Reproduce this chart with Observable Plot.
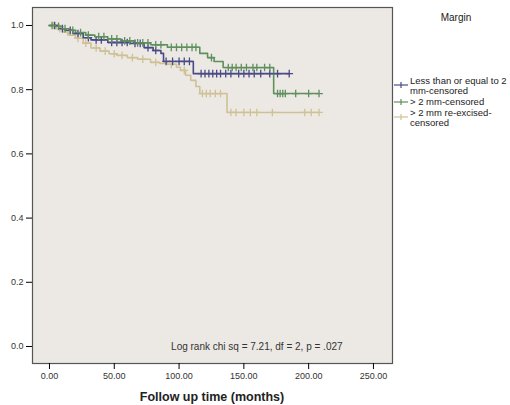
<!DOCTYPE html>
<html><head><meta charset="utf-8">
<script src="https://cdn.jsdelivr.net/npm/d3@7"></script>
<script src="https://cdn.jsdelivr.net/npm/@observablehq/plot@0.6"></script>
<style>
body{margin:0;background:#fff;font-family:"Liberation Sans",Arial,sans-serif;}
</style></head><body><div id="chart"></div>
<script>
const groups = ["Less than or equal to 2 mm-censored", "> 2 mm-censored", "> 2 mm re-excised-censored"];
const legendLines = [["Less than or equal to 2", "mm-censored"], ["> 2 mm-censored"], ["> 2 mm re-excised-", "censored"]];
const colors = ["#4a4a86", "#5e8f5c", "#cfc196"];

// Kaplan-Meier steps (months, survival)
const leTimes = [0, 8, 12, 18, 26, 32, 45, 62, 73, 80, 86, 88, 111, 185];
const leSurv  = [1, .99, .985, .975, .962, .955, .947, .944, .931, .922, .913, .888, .850, .850];
const gtTimes = [0, 5, 10, 15, 20, 28, 35, 45, 55, 65, 78, 91, 116, 122, 127, 134, 173, 208];
const gtSurv  = [1, .997, .99, .985, .978, .97, .965, .958, .952, .946, .94, .932, .913, .9, .888, .869, .788, .788];
const reTimes = [0, 5, 10, 15, 20, 26, 32, 39, 46, 52, 60, 68, 78, 85, 91, 98, 101, 105, 109, 113, 116, 137, 208];
const reSurv  = [1, .99, .98, .97, .96, .945, .93, .92, .912, .907, .9, .895, .885, .882, .879, .87, .86, .845, .829, .81, .788, .729, .729];

// censored observation times
const leCens = [4, 10, 16, 22, 30, 36, 40, 48, 52, 56, 60, 66, 70, 76, 82, 90, 95, 100, 104, 108, 117, 120, 123, 126, 129, 132, 136, 140, 146, 150, 154, 158, 163, 170, 176, 185];
const gtCens = [2, 7, 12, 18, 24, 30, 38, 42, 48, 52, 58, 62, 68, 72, 76, 82, 86, 94, 98, 102, 106, 110, 113, 125, 138, 141, 144, 148, 152, 157, 160, 166, 170, 176, 178, 180, 182, 190, 200, 208];
const reCens = [3, 8, 14, 22, 28, 36, 43, 50, 56, 64, 72, 82, 94, 104, 118, 121, 124, 128, 132, 140, 144, 150, 155, 160, 172, 197, 202, 208];

const xTicks = [0, 50, 100, 150, 200, 250];
const yTicks = [0, 0.2, 0.4, 0.6, 0.8, 1.0];
const statText = "Log rank chi sq = 7.21, df = 2, p = .027";

const series = [[leTimes, leSurv, leCens], [gtTimes, gtSurv, gtCens], [reTimes, reSurv, reCens]];
const lines = [], cens = [];
series.forEach(([t, s, c], i) => {
  t.forEach((tt, j) => lines.push({g: groups[i], t: tt, s: s[j]}));
  c.forEach(ct => {
    let v = s[0];
    for (let j = 0; j < t.length; j++) if (t[j] <= ct) v = s[j];
    cens.push({g: groups[i], t: ct, s: v});
  });
});
const order = [2, 0, 1];

const plot = Plot.plot({
  width: 510, height: 405,
  marginLeft: 32, marginRight: 118, marginTop: 7, marginBottom: 42,
  style: {fontFamily: "Liberation Sans, Arial, sans-serif", fontSize: "9px", background: "#fff"},
  x: {domain: [-13.1, 264.7], label: null},
  y: {domain: [-0.053, 1.056], label: null},
  marks: [
    Plot.frame({fill: "#ece9e4", stroke: "none"}),
    ...order.map(i => Plot.line(lines.filter(d => d.g === groups[i]), {x: "t", y: "s", stroke: colors[i], strokeWidth: 1.6, curve: "step-after"})),
    ...order.map(i => Plot.dot(cens.filter(d => d.g === groups[i]), {x: "t", y: "s", stroke: colors[i], symbol: "plus", r: 2.6, strokeWidth: 1.3})),
    Plot.text([statText], {x: 160, y: 0.0, text: d => d, fontSize: 10, fill: "#333"}),
    Plot.frame({stroke: "#555", strokeWidth: 1.2}),
    Plot.axisX({ticks: xTicks, tickFormat: d => d.toFixed(2), tickSize: 6, fontSize: 9, fill: "#333", label: null}),
    Plot.axisY({ticks: yTicks, tickFormat: d => d.toFixed(1), tickSize: 6, fontSize: 9, fill: "#333", label: null})
  ]
});

const svg = d3.select(plot);
svg.append("text").attr("x", 212).attr("y", 401).attr("text-anchor", "middle")
  .attr("font-size", 12.5).attr("font-weight", "bold").attr("fill", "#222").text("Follow up time (months)");
svg.append("text").attr("x", 456).attr("y", 21).attr("text-anchor", "middle")
  .attr("font-size", 10).attr("fill", "#222").text("Margin");
const symY = [85, 102, 117];
legendLines.forEach((ls, i) => {
  const g = svg.append("g");
  g.append("line").attr("x1", 394).attr("x2", 408).attr("y1", symY[i]).attr("y2", symY[i]).attr("stroke", colors[i]).attr("stroke-width", 1.2);
  g.append("line").attr("x1", 401).attr("x2", 401).attr("y1", symY[i] - 3).attr("y2", symY[i] + 3).attr("stroke", colors[i]).attr("stroke-width", 1.2);
  ls.forEach((s, k) => g.append("text").attr("x", 410).attr("y", symY[i] - (ls.length > 1 ? 1 : -3) + k * 10)
    .attr("text-anchor", "start").attr("font-size", 9.5).attr("fill", "#222").text(s));
});
document.getElementById("chart").appendChild(plot);
</script></body></html>
